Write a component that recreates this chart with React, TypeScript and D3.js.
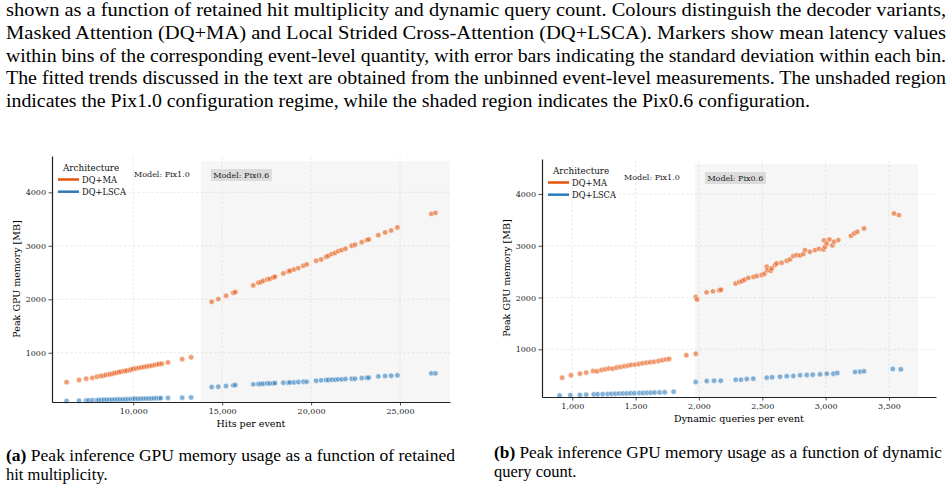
import React, { useEffect, useRef } from "react";
import * as d3 from "d3";

const ORANGE = "#e6550d";
const BLUE = "#2b7bba";
const SERIF = "'DejaVu Serif', serif";
const TIMES = "'Liberation Serif', 'Times New Roman', serif";

// (a) hits per event, Pix1.0 regime
const hitsMaPix10 = [6250, 6950, 7350, 7700, 7950, 8150, 8300, 8450, 8600, 8700, 8800, 8900, 9000, 9100, 9200, 9300, 9450, 9550, 9650, 9800, 9900, 10000, 10150, 10300, 10450, 10600, 10750, 10900, 11050, 11200, 11350, 11450, 11600, 11950, 12750, 13250];
const memMaPix10 = [450, 490, 515, 530, 550, 565, 570, 585, 595, 600, 605, 615, 625, 628, 640, 645, 655, 660, 668, 675, 688, 700, 705, 718, 725, 735, 745, 752, 760, 772, 780, 790, 795, 820, 880, 915];
const hitsLscaPix10 = [6250, 6950, 7350, 7500, 7700, 7950, 8050, 8200, 8350, 8500, 8650, 8800, 8950, 9100, 9250, 9400, 9550, 9700, 9850, 10000, 10100, 10250, 10400, 10550, 10700, 10850, 11000, 11150, 11300, 11450, 11550, 11950, 12750, 13250];
const memLscaPix10 = [98, 103, 108, 108, 112, 115, 115, 118, 120, 121, 122, 124, 125, 127, 128, 128, 130, 131, 133, 136, 140, 138, 140, 142, 143, 143, 145, 147, 150, 150, 152, 155, 160, 165];

// (a) hits per event, Pix0.6 regime (same bins for both decoders)
const hitsPix06 = [14410, 14780, 15215, 15625, 15740, 16750, 17030, 17165, 17310, 17540, 17690, 17875, 17970, 18440, 18720, 18815, 19040, 19280, 19560, 19750, 20280, 20560, 20840, 20970, 21160, 21350, 21530, 21720, 21930, 22285, 22470, 22850, 23130, 23240, 23780, 24160, 24500, 24850, 26760, 26990];
const memMaPix06 = [1953, 2004, 2065, 2120, 2135, 2260, 2308, 2321, 2346, 2372, 2383, 2409, 2421, 2484, 2521, 2533, 2559, 2583, 2626, 2652, 2720, 2745, 2794, 2813, 2845, 2869, 2901, 2920, 2944, 3000, 3019, 3069, 3107, 3120, 3200, 3250, 3288, 3344, 3598, 3617];
const memLscaPix06 = [359, 364, 377, 390, 396, 409, 415, 415, 421, 427, 427, 427, 433, 440, 440, 446, 446, 452, 458, 458, 477, 484, 490, 490, 496, 496, 503, 503, 508, 514, 514, 527, 533, 533, 559, 565, 571, 578, 615, 615];

// (b) dynamic queries per event
const queriesMaPix10 = [920, 990, 1060, 1110, 1165, 1195, 1230, 1260, 1290, 1320, 1350, 1380, 1410, 1440, 1465, 1495, 1525, 1555, 1585, 1615, 1645, 1680, 1710, 1740, 1765, 1900, 1975];
const qMemMaPix10 = [450, 500, 530, 550, 580, 575, 600, 615, 630, 625, 648, 660, 672, 685, 700, 705, 715, 730, 742, 750, 760, 775, 790, 805, 815, 885, 915];
const queriesLscaPix10 = [900, 985, 1060, 1110, 1170, 1200, 1240, 1280, 1310, 1340, 1370, 1400, 1430, 1460, 1490, 1530, 1560, 1590, 1620, 1650, 1690, 1730, 1800];
const qMemLscaPix10 = [110, 115, 120, 125, 130, 132, 135, 138, 140, 142, 145, 146, 148, 150, 150, 155, 157, 160, 162, 165, 168, 170, 182];
const queriesMaPix06 = [1975, 1985, 2060, 2110, 2160, 2175, 2290, 2320, 2340, 2360, 2390, 2430, 2456, 2495, 2517, 2535, 2540, 2566, 2574, 2600, 2614, 2653, 2693, 2719, 2745, 2771, 2798, 2824, 2837, 2876, 2916, 2948, 2982, 2987, 2995, 3008, 3029, 3053, 3066, 3100, 3200, 3225, 3250, 3303, 3540, 3579];
const qMemMaPix06 = [2010, 1960, 2100, 2120, 2140, 2150, 2270, 2300, 2320, 2345, 2380, 2400, 2415, 2434, 2460, 2594, 2530, 2517, 2563, 2627, 2660, 2671, 2710, 2737, 2801, 2820, 2814, 2839, 2916, 2884, 2916, 2941, 2930, 3104, 2980, 3046, 3123, 3007, 3077, 3110, 3192, 3239, 3270, 3335, 3625, 3592];
const queriesLscaPix06 = [1974, 2061, 2119, 2172, 2290, 2332, 2377, 2429, 2535, 2577, 2640, 2693, 2745, 2798, 2851, 2898, 2956, 3009, 3061, 3092, 3232, 3271, 3303, 3530, 3593];
const qMemLscaPix06 = [369, 388, 394, 394, 413, 413, 427, 433, 452, 460, 471, 479, 485, 498, 504, 510, 517, 529, 529, 543, 562, 568, 575, 620, 614];

const memTicks = [1000, 2000, 3000, 4000];
const hitsTicks = [10000, 15000, 20000, 25000];
const queryTicks = [1000, 1500, 2000, 2500, 3000, 3500];
const legendLabels = ["DQ+MA", "DQ+LSCA"];

const paragraph = [
  "shown as a function of retained hit multiplicity and dynamic query count. Colours distinguish the decoder variants,",
  "Masked Attention (DQ+MA) and Local Strided Cross-Attention (DQ+LSCA). Markers show mean latency values",
  "within bins of the corresponding event-level quantity, with error bars indicating the standard deviation within each bin.",
  "The fitted trends discussed in the text are obtained from the unbinned event-level measurements. The unshaded region",
  "indicates the Pix1.0 configuration regime, while the shaded region indicates the Pix0.6 configuration.",
];

const zip = (xs: number[], ys: number[]) => xs.map((x, i) => [x, ys[i]] as [number, number]);

const panels = [
  {
    x0: 52, x1: 450, y0: 402, y1: 156,
    xDomain: [5430, 27810], yDomain: [79, 4680],
    xTicks: hitsTicks, xLabel: "Hits per event",
    shade: [13800, 27810], shadeTop: 4580,
    series: [
      { color: ORANGE, pts: zip(hitsMaPix10, memMaPix10).concat(zip(hitsPix06, memMaPix06)) },
      { color: BLUE, pts: zip(hitsLscaPix10, memLscaPix10).concat(zip(hitsPix06, memLscaPix06)) },
    ],
  },
  {
    x0: 542, x1: 936, y0: 397, y1: 159,
    xDomain: [761, 3871], yDomain: [79, 4676],
    xTicks: queryTicks, xLabel: "Dynamic queries per event",
    shade: [1968, 3729], shadeTop: 4580,
    series: [
      { color: ORANGE, pts: zip(queriesMaPix10, qMemMaPix10).concat(zip(queriesMaPix06, qMemMaPix06)) },
      { color: BLUE, pts: zip(queriesLscaPix10, qMemLscaPix10).concat(zip(queriesLscaPix06, qMemLscaPix06)) },
    ],
  },
];

const App = () => {
  const ref = useRef<SVGSVGElement>(null);

  useEffect(() => {
    const svg = d3.select(ref.current);
    svg.selectAll("*").remove();

    // caption paragraph above the figure
    const para = svg.append("g").attr("font-family", TIMES).attr("font-size", 19).attr("fill", "#000");
    paragraph.forEach((line, i) => {
      para
        .append("text")
        .attr("x", 6)
        .attr("y", 16 + i * 22.8)
        .attr("textLength", i < 4 ? 940 : 804)
        .attr("lengthAdjust", "spacingAndGlyphs")
        .text(line);
    });

    panels.forEach((p) => {
      const x = d3.scaleLinear().domain(p.xDomain).range([p.x0, p.x1]);
      const y = d3.scaleLinear().domain(p.yDomain).range([p.y0, p.y1]);
      const g = svg.append("g");

      // shaded Pix0.6 regime
      g.append("rect")
        .attr("x", x(p.shade[0]))
        .attr("y", y(p.shadeTop))
        .attr("width", x(p.shade[1]) - x(p.shade[0]))
        .attr("height", p.y0 - y(p.shadeTop))
        .attr("fill", "#f6f6f6");

      // dashed grid
      const grid = g.append("g").attr("stroke", "#d9d9d9").attr("stroke-width", 0.6).attr("stroke-dasharray", "2.5,2");
      memTicks.forEach((t) =>
        grid.append("line").attr("x1", p.x0).attr("x2", p.x1).attr("y1", y(t)).attr("y2", y(t))
      );
      p.xTicks.forEach((t) =>
        grid.append("line").attr("x1", x(t)).attr("x2", x(t)).attr("y1", p.y0).attr("y2", p.y1)
      );

      // markers
      p.series.forEach((s) => {
        g.append("g")
          .selectAll("circle")
          .data(s.pts)
          .join("circle")
          .attr("cx", (d) => x(d[0]))
          .attr("cy", (d) => y(d[1]))
          .attr("r", 2.7)
          .attr("fill", s.color)
          .attr("fill-opacity", 0.58)
          .attr("stroke", "#fff")
          .attr("stroke-width", 0.5);
      });

      // axes
      const xAxis = g
        .append("g")
        .attr("transform", `translate(0,${p.y0})`)
        .call(d3.axisBottom(x).tickValues(p.xTicks).tickFormat(d3.format(",")).tickSize(3.5).tickSizeOuter(0).tickPadding(2.5));
      const yAxis = g
        .append("g")
        .attr("transform", `translate(${p.x0},0)`)
        .call(d3.axisLeft(y).tickValues(memTicks).tickFormat(d3.format("d")).tickSize(3.5).tickSizeOuter(0).tickPadding(2.5));
      [xAxis, yAxis].forEach((a) => {
        a.select(".domain").attr("stroke", "#222").attr("stroke-width", 1.2);
        a.selectAll(".tick line").attr("stroke", "#222").attr("stroke-width", 0.8);
        a.selectAll(".tick text").attr("font-family", SERIF).attr("font-size", 8).attr("fill", "#222");
      });

      g.append("text")
        .attr("x", (p.x0 + p.x1) / 2)
        .attr("y", p.y0 + 24.5)
        .attr("text-anchor", "middle")
        .attr("font-family", SERIF)
        .attr("font-size", 9.5)
        .text(p.xLabel);
      g.append("text")
        .attr("transform", `translate(${p.x0 - 32.5},${(p.y0 + p.y1) / 2}) rotate(-90)`)
        .attr("text-anchor", "middle")
        .attr("font-family", SERIF)
        .attr("font-size", 9.5)
        .text("Peak GPU memory [MB]");

      // legend
      const lg = g.append("g").attr("font-family", SERIF).attr("fill", "#111");
      lg.append("text").attr("x", p.x0 + 11).attr("y", p.y1 + 14.5).attr("font-size", 8.8).text("Architecture");
      legendLabels.forEach((lab, i) => {
        const ly = p.y1 + 23.5 + i * 12.2;
        lg.append("line")
          .attr("x1", p.x0 + 6).attr("x2", p.x0 + 27)
          .attr("y1", ly).attr("y2", ly)
          .attr("stroke", i === 0 ? ORANGE : BLUE)
          .attr("stroke-width", 2.5);
        lg.append("text").attr("x", p.x0 + 30).attr("y", ly + 3).attr("font-size", 8.3).text(lab);
      });

      // regime annotations
      g.append("text")
        .attr("x", p.x0 + 82)
        .attr("y", p.y1 + 21)
        .attr("font-family", SERIF)
        .attr("font-size", 8)
        .attr("fill", "#222")
        .text("Model: Pix1.0");
      const bx = x(p.shade[0]) + 10;
      g.append("rect").attr("x", bx).attr("y", p.y1 + 13).attr("width", 61).attr("height", 12).attr("fill", "#dcdcdc");
      g.append("text")
        .attr("x", bx + 2.5)
        .attr("y", p.y1 + 22)
        .attr("font-family", SERIF)
        .attr("font-size", 8)
        .attr("fill", "#222")
        .text("Model: Pix0.6");
    });

    // sub-figure captions
    const cap = svg.append("g").attr("font-family", TIMES).attr("font-size", 16.5).attr("fill", "#000");
    const capA = cap.append("text").attr("x", 6).attr("y", 461).attr("textLength", 449).attr("lengthAdjust", "spacingAndGlyphs");
    capA.append("tspan").attr("font-weight", "bold").text("(a)");
    capA.append("tspan").text(" Peak inference GPU memory usage as a function of retained");
    cap.append("text").attr("x", 6).attr("y", 480).text("hit multiplicity.");
    const capB = cap.append("text").attr("x", 494).attr("y", 458).attr("textLength", 448).attr("lengthAdjust", "spacingAndGlyphs");
    capB.append("tspan").attr("font-weight", "bold").text("(b)");
    capB.append("tspan").text(" Peak inference GPU memory usage as a function of dynamic");
    cap.append("text").attr("x", 494).attr("y", 477).text("query count.");

    return () => {
      svg.selectAll("*").remove();
    };
  }, []);

  return (
    <svg
      ref={ref}
      width={952}
      height={491}
      style={{ position: "absolute", left: 0, top: 0, background: "#fff" }}
    ></svg>
  );
};

export default App;
